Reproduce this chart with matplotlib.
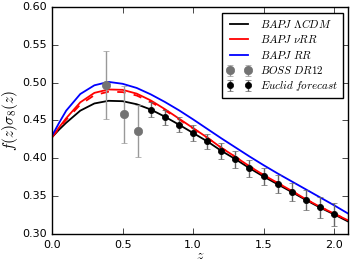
import numpy as np
import matplotlib
matplotlib.use('Agg')
import matplotlib.pyplot as plt

plt.style.use('classic')
plt.rcParams['mathtext.fontset'] = 'cm'

# model curves f(z)sigma8(z)
z_th = [0.0, 0.05, 0.1, 0.2, 0.3, 0.4, 0.5, 0.6, 0.7, 0.8, 0.9, 1.0, 1.1,
        1.2, 1.3, 1.4, 1.5, 1.6, 1.7, 1.8, 1.9, 2.0, 2.1]
lcdm = [0.428, 0.438, 0.447, 0.463, 0.4725, 0.476, 0.4755, 0.4715, 0.4645,
        0.455, 0.4445, 0.4335, 0.4225, 0.410, 0.399, 0.387, 0.376, 0.3657,
        0.3555, 0.345, 0.335, 0.326, 0.3165]
nurr = [0.428, 0.441, 0.453, 0.474, 0.4865, 0.491, 0.4905, 0.4855, 0.4765,
        0.465, 0.4525, 0.440, 0.4275, 0.414, 0.402, 0.3895, 0.378, 0.3675,
        0.357, 0.346, 0.336, 0.327, 0.318]
nurr_d = [0.428, 0.440, 0.451, 0.471, 0.4835, 0.488, 0.4875, 0.483, 0.4745,
          0.4635, 0.4515, 0.4395, 0.4275, 0.414, 0.402, 0.3895, 0.378, 0.3675,
          0.357, 0.346, 0.336, 0.327, 0.318]
rr = [0.430, 0.447, 0.463, 0.485, 0.4965, 0.501, 0.4985, 0.493, 0.4845,
      0.4745, 0.4635, 0.4515, 0.439, 0.4265, 0.4145, 0.4025, 0.391, 0.380,
      0.3695, 0.359, 0.3485, 0.338, 0.327]

# BOSS DR12
z_boss = [0.38, 0.51, 0.61]
fs_boss = [0.497, 0.458, 0.436]
err_boss = [0.045, 0.038, 0.034]

# Euclid forecast
z_euc = [0.7, 0.8, 0.9, 1.0, 1.1, 1.2, 1.3, 1.4, 1.5, 1.6, 1.7, 1.8, 1.9, 2.0]
fs_euc = [0.464, 0.4545, 0.4445, 0.4335, 0.4225, 0.410, 0.3987, 0.3868,
          0.3762, 0.3657, 0.3555, 0.3453, 0.3353, 0.326]
err_euc = [0.010, 0.010, 0.010, 0.010, 0.010, 0.0105, 0.011, 0.011, 0.0115,
           0.012, 0.0125, 0.013, 0.014, 0.015]

fig = plt.figure(figsize=(3.52, 2.64), dpi=100, facecolor='white')
ax = fig.add_axes([0.148, 0.1136, 0.841, 0.86])

ax.plot(z_th, lcdm, color='black', lw=1.3, label=r'$BAPJ\ \Lambda CDM$')
ax.plot(z_th, nurr, color='red', lw=1.3, label=r'$BAPJ\ \nu RR$')
ax.plot(z_th, nurr_d, color='red', lw=1.3, ls='--')
ax.plot(z_th, rr, color='blue', lw=1.3, label=r'$BAPJ\ RR$')
ax.errorbar(z_boss, fs_boss, yerr=err_boss, fmt='o', color='0.45', mec='0.45',
            ms=6, ecolor='0.6', capsize=2, elinewidth=1, label=r'$BOSS\ DR12$')
ax.errorbar(z_euc, fs_euc, yerr=err_euc, fmt='o', color='black', ms=4.5,
            ecolor='0.4', capsize=2, elinewidth=1, label=r'$Euclid\ forecast$')

ax.set_xlim(0, 2.1)
ax.set_ylim(0.30, 0.60)
ax.set_xticks([0.0, 0.5, 1.0, 1.5, 2.0])
ax.set_yticks(np.arange(0.30, 0.601, 0.05))
ax.tick_params(labelsize=8)
ax.set_xlabel(r'$z$', fontsize=10)
ax.set_ylabel(r'$f(z)\sigma_8(z)$', fontsize=11)
ax.xaxis.set_label_coords(0.5, -0.062)
ax.yaxis.set_label_coords(-0.11, 0.5)

leg = ax.legend(loc='upper right', numpoints=2, fontsize=8, fancybox=False,
                handlelength=2.2, borderpad=0.4, labelspacing=0.3)

fig.savefig('out.png', dpi=100, facecolor='white')
